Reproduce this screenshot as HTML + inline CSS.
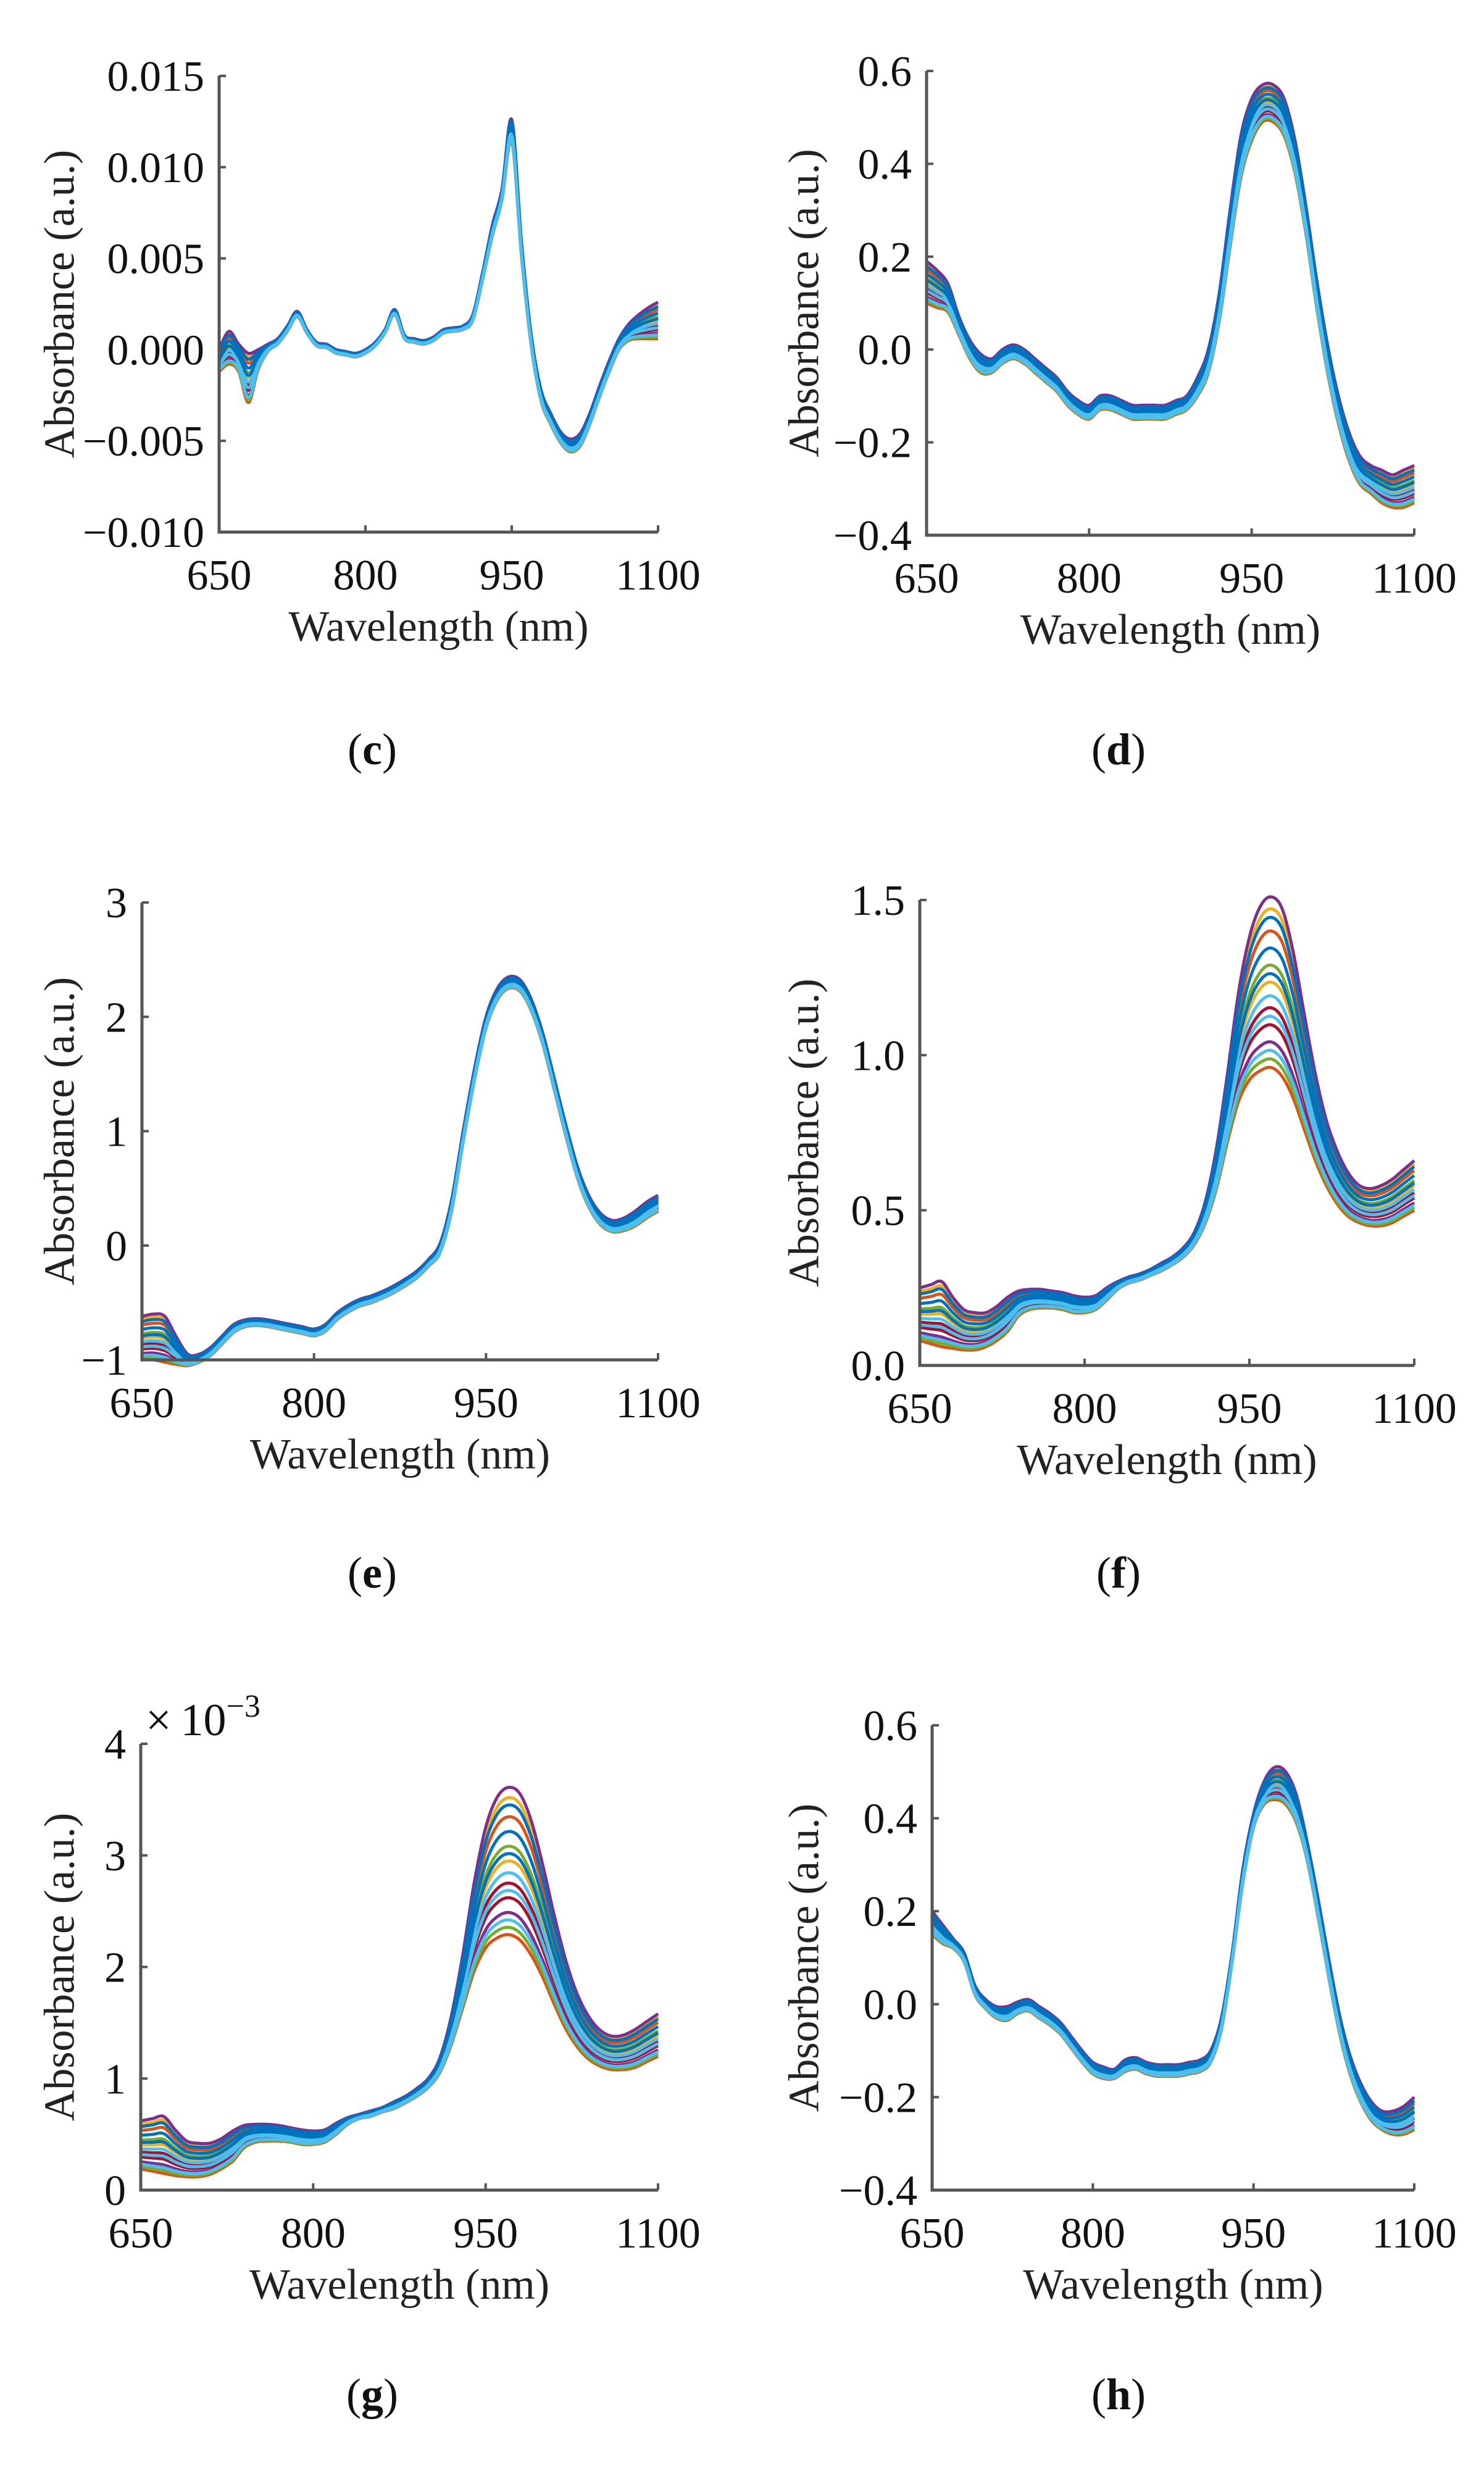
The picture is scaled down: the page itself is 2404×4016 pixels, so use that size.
<!DOCTYPE html>
<html><head><meta charset="utf-8">
<style>
html,body{margin:0;padding:0;background:#fff;}
svg{display:block;font-family:"Liberation Serif","Times New Roman",serif;}
</style></head>
<body>
<svg id="fig" width="2404" height="4016" viewBox="0 0 2404 4016" xmlns="http://www.w3.org/2000/svg"></svg>
<script>
// ---- data ----
const wavelengths = [650,660,670,680,690,700,710,720,730,740,750,760,770,780,790,800,810,820,830,840,850,860,870,880,890,900,910,920,930,940,950,960,970,980,990,1000,1010,1020,1030,1040,1050,1060,1070,1080,1090,1100];
const xTicks = [650,800,950,1100];
const seriesFrac = [0.0,0.93,0.15,0.6,0.35,0.8,0.05,0.5,1.0,0.25,0.7,0.42,0.88,0.1,0.55,0.3];
const seriesColors = ["#D95319","#EDB120","#7E2F8E","#77AC30","#A2142F","#D95319","#77AC30","#EDB120","#7E2F8E","#A2142F","#0072BD","#4DBEEE","#0072BD","#4DBEEE","#0072BD","#4DBEEE"];

// panel c (units of 1e-3)
const cUpper = [0.0,1.0,0.3,-0.2,0.0,0.3,0.6,1.3,2.1,1.1,0.4,0.3,0.0,-0.1,-0.2,0.0,0.4,1.1,2.2,0.8,0.6,0.5,0.7,1.1,1.2,1.3,1.9,4.2,6.8,8.8,12.6,5.9,0.8,-2.2,-3.5,-4.5,-4.9,-4.6,-3.5,-2.0,-0.6,0.6,1.4,1.9,2.3,2.6];
const cLower = [-1.2,-0.8,-1.2,-2.9,-1.1,-0.1,0.3,1.0,1.8,0.9,0.2,0.1,-0.2,-0.3,-0.4,-0.2,0.2,0.9,1.9,0.6,0.4,0.3,0.5,0.9,1.0,1.1,1.6,3.8,6.2,8.2,11.4,5.1,0.2,-2.8,-4.1,-5.1,-5.6,-5.3,-4.1,-2.6,-1.2,0.0,0.5,0.6,0.6,0.6];
const cTickVals = [0.015,0.010,0.005,0.000,-0.005,-0.010];
const cTickLabels = ["0.015","0.010","0.005","0.000","\u22120.005","\u22120.010"];

// panel d
const dUpper = [0.19,0.17,0.14,0.07,0.02,-0.01,-0.02,0.0,0.01,0.0,-0.02,-0.04,-0.06,-0.09,-0.11,-0.12,-0.10,-0.10,-0.11,-0.12,-0.12,-0.12,-0.12,-0.11,-0.10,-0.06,0.0,0.12,0.3,0.46,0.54,0.57,0.57,0.54,0.45,0.31,0.15,0.01,-0.10,-0.18,-0.23,-0.25,-0.26,-0.27,-0.26,-0.25];
const dLower = [0.10,0.09,0.08,0.03,-0.02,-0.05,-0.05,-0.03,-0.02,-0.03,-0.05,-0.07,-0.09,-0.12,-0.14,-0.15,-0.13,-0.13,-0.14,-0.15,-0.15,-0.15,-0.15,-0.14,-0.13,-0.10,-0.05,0.06,0.22,0.37,0.45,0.49,0.49,0.46,0.38,0.25,0.09,-0.05,-0.16,-0.24,-0.29,-0.31,-0.33,-0.34,-0.34,-0.33];
const dTickVals = [0.6,0.4,0.2,0.0,-0.2,-0.4];
const dTickLabels = ["0.6","0.4","0.2","0.0","\u22120.2","\u22120.4"];

// panel e
const eUpper = [-0.62,-0.6,-0.62,-0.8,-0.95,-0.95,-0.89,-0.79,-0.69,-0.65,-0.64,-0.65,-0.67,-0.69,-0.71,-0.73,-0.69,-0.59,-0.52,-0.47,-0.44,-0.4,-0.35,-0.29,-0.22,-0.12,0.02,0.4,1.0,1.55,2.0,2.25,2.35,2.32,2.14,1.84,1.44,1.04,0.68,0.43,0.28,0.22,0.24,0.3,0.38,0.44];
const eLower = [-1.0,-1.0,-1.02,-1.04,-1.05,-1.02,-0.96,-0.86,-0.76,-0.71,-0.7,-0.71,-0.73,-0.75,-0.77,-0.79,-0.75,-0.65,-0.58,-0.53,-0.5,-0.46,-0.41,-0.35,-0.28,-0.18,-0.06,0.3,0.9,1.45,1.9,2.15,2.25,2.22,2.04,1.74,1.34,0.94,0.58,0.33,0.18,0.12,0.13,0.17,0.24,0.3];
const eTickVals = [3,2,1,0,-1];
const eTickLabels = ["3","2","1","0","\u22121"];

// panel f
const fUpper = [0.25,0.26,0.27,0.22,0.18,0.17,0.17,0.19,0.22,0.24,0.245,0.245,0.24,0.235,0.225,0.22,0.225,0.25,0.27,0.285,0.295,0.31,0.33,0.35,0.38,0.43,0.53,0.7,0.94,1.2,1.38,1.48,1.51,1.47,1.33,1.13,0.94,0.79,0.69,0.62,0.58,0.57,0.58,0.6,0.63,0.66];
const fLower = [0.08,0.07,0.06,0.055,0.05,0.05,0.06,0.08,0.11,0.16,0.18,0.185,0.185,0.18,0.17,0.17,0.18,0.21,0.245,0.265,0.275,0.29,0.305,0.325,0.35,0.39,0.46,0.57,0.72,0.85,0.92,0.95,0.96,0.93,0.86,0.76,0.66,0.58,0.52,0.48,0.46,0.45,0.45,0.46,0.48,0.5];
const fTickVals = [1.5,1.0,0.5,0.0];
const fTickLabels = ["1.5","1.0","0.5","0.0"];

// panel g (units of 1e-3)
const gUpper = [0.62,0.64,0.66,0.54,0.44,0.42,0.42,0.46,0.53,0.58,0.59,0.59,0.58,0.56,0.54,0.53,0.54,0.6,0.65,0.68,0.71,0.74,0.79,0.84,0.91,1.0,1.18,1.55,2.1,2.75,3.25,3.52,3.61,3.55,3.3,2.9,2.45,2.05,1.75,1.55,1.43,1.38,1.39,1.44,1.51,1.58];
const gLower = [0.19,0.17,0.15,0.13,0.12,0.12,0.14,0.19,0.26,0.38,0.43,0.44,0.44,0.43,0.41,0.41,0.43,0.5,0.59,0.64,0.66,0.7,0.73,0.78,0.84,0.92,1.05,1.3,1.63,1.96,2.17,2.26,2.29,2.24,2.1,1.9,1.66,1.44,1.28,1.17,1.11,1.08,1.08,1.1,1.15,1.2];
const gTickVals = [4,3,2,1,0];
const gTickLabels = ["4","3","2","1","0"];

// panel h
const hUpper = [0.2,0.17,0.14,0.11,0.04,0.01,-0.005,-0.005,0.005,0.01,-0.005,-0.02,-0.04,-0.07,-0.1,-0.125,-0.135,-0.14,-0.12,-0.115,-0.125,-0.13,-0.13,-0.13,-0.125,-0.12,-0.1,-0.03,0.11,0.29,0.41,0.48,0.51,0.5,0.45,0.35,0.23,0.1,-0.02,-0.11,-0.17,-0.21,-0.23,-0.23,-0.22,-0.2];
const hLower = [0.15,0.13,0.12,0.09,0.02,-0.01,-0.03,-0.035,-0.02,-0.015,-0.03,-0.045,-0.065,-0.095,-0.125,-0.15,-0.16,-0.16,-0.145,-0.14,-0.15,-0.155,-0.155,-0.155,-0.15,-0.145,-0.125,-0.055,0.09,0.26,0.38,0.43,0.44,0.43,0.39,0.31,0.19,0.06,-0.06,-0.15,-0.21,-0.25,-0.27,-0.28,-0.28,-0.27];
const hTickVals = [0.6,0.4,0.2,0.0,-0.2,-0.4];
const hTickLabels = ["0.6","0.4","0.2","0.0","\u22120.2","\u22120.4"];

// ---- layout ----
const NS = "http://www.w3.org/2000/svg";
const svg = document.getElementById('fig');
function mk(tag, attrs, parent){
  const e = document.createElementNS(NS, tag);
  for (const k in attrs) e.setAttribute(k, attrs[k]);
  (parent||svg).appendChild(e);
  return e;
}
const panels = [
  {id:'c', L:355, R:1066, T:123, B:862, yMin:-0.010, yMax:0.015, scale:0.001, up:cUpper, lo:cLower, tv:cTickVals, tl:cTickLabels, ylx:97, letterX:603, letterY:1238},
  {id:'d', L:1501, R:2291, T:115, B:867, yMin:-0.4, yMax:0.6, scale:1, up:dUpper, lo:dLower, tv:dTickVals, tl:dTickLabels, ylx:1303, letterX:1812, letterY:1238},
  {id:'e', L:230, R:1066, T:1462, B:2203, yMin:-1, yMax:3, scale:1, up:eUpper, lo:eLower, tv:eTickVals, tl:eTickLabels, ylx:97, letterX:603, letterY:2572},
  {id:'f', L:1490, R:2291, T:1458, B:2212, yMin:0, yMax:1.5, scale:1, up:fUpper, lo:fLower, tv:fTickVals, tl:fTickLabels, ylx:1303, letterX:1812, letterY:2572},
  {id:'g', L:228, R:1066, T:2825, B:3548, yMin:0, yMax:4, scale:1, up:gUpper, lo:gLower, tv:gTickVals, tl:gTickLabels, ylx:97, letterX:603, letterY:3903, mult:true},
  {id:'h', L:1510, R:2291, T:2795, B:3548, yMin:-0.4, yMax:0.6, scale:1, up:hUpper, lo:hLower, tv:hTickVals, tl:hTickLabels, ylx:1303, letterX:1812, letterY:3903}
];

function smoothPath(pts){
  let d = 'M' + pts[0][0].toFixed(1) + ',' + pts[0][1].toFixed(1);
  for (let i=0;i<pts.length-1;i++){
    const p0 = pts[Math.max(0,i-1)], p1 = pts[i], p2 = pts[i+1], p3 = pts[Math.min(pts.length-1,i+2)];
    const c1x = p1[0] + (p2[0]-p0[0])/6, c1y = p1[1] + (p2[1]-p0[1])/6;
    const c2x = p2[0] - (p3[0]-p1[0])/6, c2y = p2[1] - (p3[1]-p1[1])/6;
    d += ' C' + c1x.toFixed(1)+','+c1y.toFixed(1)+' '+c2x.toFixed(1)+','+c2y.toFixed(1)+' '+p2[0].toFixed(1)+','+p2[1].toFixed(1);
  }
  return d;
}

panels.forEach(p => {
  const g = mk('g', {});
  
  
  const xS = w => p.L + (w - 650) / 450 * (p.R - p.L);
  const yS = v => p.B - (v - p.yMin) / (p.yMax - p.yMin) * (p.B - p.T);

  // series
  const sg = mk('g', {}, g);
  
  
  seriesFrac.forEach((t, si) => {
    const pts = wavelengths.map((w, i) => {
      const v = (p.lo[i] + t * (p.up[i] - p.lo[i])) * p.scale;
      return [xS(w), yS(v)];
    });
    const path = mk('path', {d: smoothPath(pts), fill:'none', stroke: seriesColors[si % seriesColors.length], 'stroke-width': 5, 'stroke-linejoin':'round'}, sg);
    
    
  });

  // axes
  const ax = mk('path', {d:`M${p.L},${p.T} L${p.L},${p.B} L${p.R},${p.B}`, fill:'none', stroke:'#555', 'stroke-width':5}, g);
  
  

  p.tv.forEach((v, i) => {
    const y = yS(v);
    mk('line', {x1:p.L, x2:p.L+11, y1:y, y2:y, stroke:'#555', 'stroke-width':4}, g);
    const t = mk('text', {x:p.L-24, y:y+24, 'text-anchor':'end', 'font-size':70, fill:'#111'}, g);
    t.textContent = p.tl[i];
    
    
  });
  xTicks.forEach(w => {
    const x = xS(w);
    mk('line', {x1:x, x2:x, y1:p.B, y2:p.B-11, stroke:'#555', 'stroke-width':4}, g);
    const t = mk('text', {x:x, y:p.B+93, 'text-anchor':'middle', 'font-size':70, fill:'#111'}, g);
    t.textContent = String(w);
    
    
  });
  const xl = mk('text', {x:(p.L+p.R)/2, y:p.B+176, 'text-anchor':'middle', 'font-size':70, fill:'#222'}, g);
  xl.textContent = 'Wavelength (nm)';
  
  
  const cy = (p.T + p.B) / 2;
  const yl = mk('text', {x:p.ylx, y:cy, 'text-anchor':'middle', 'dominant-baseline':'central', 'font-size':70, fill:'#222', transform:`rotate(-90 ${p.ylx} ${cy})`}, g);
  yl.textContent = 'Absorbance (a.u.)';
  
  
  if (p.mult){
    const m = mk('text', {x:p.L+8, y:p.T-14, 'font-size':74, fill:'#111'}, g);
    m.innerHTML = '\u00d7\u200910<tspan dy="-30" font-size="52">\u22123</tspan>';
    
    
  }
  const lt = mk('text', {x:p.letterX, y:p.letterY, 'text-anchor':'middle', 'font-size':72, fill:'#111'}, g);
  lt.innerHTML = '(<tspan font-weight="bold">' + p.id + '</tspan>)';
  
  
});
</script>
</body></html>
